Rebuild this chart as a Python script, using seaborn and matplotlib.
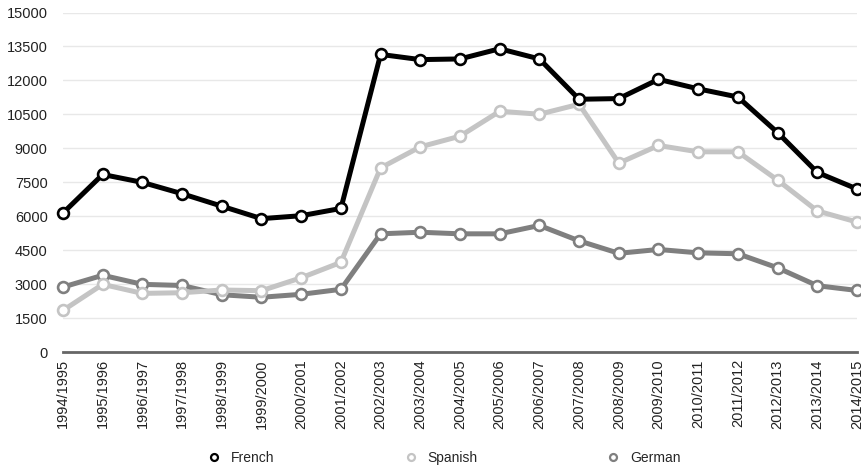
import matplotlib
matplotlib.use("Agg")
import matplotlib.pyplot as plt
from matplotlib.lines import Line2D
import seaborn as sns
import pandas as pd

years = ["1994/1995", "1995/1996", "1996/1997", "1997/1998", "1998/1999",
         "1999/2000", "2000/2001", "2001/2002", "2002/2003", "2003/2004",
         "2004/2005", "2005/2006", "2006/2007", "2007/2008", "2008/2009",
         "2009/2010", "2010/2011", "2011/2012", "2012/2013", "2013/2014",
         "2014/2015"]
french = [6150, 7850, 7500, 7000, 6450, 5900, 6030, 6350, 13150, 12920,
          12950, 13400, 12950, 11170, 11200, 12050, 11630, 11270, 9700, 7940, 7210]
spanish = [1850, 3000, 2600, 2630, 2750, 2720, 3290, 3970, 8140, 9070,
           9540, 10640, 10510, 10950, 8350, 9130, 8850, 8850, 7600, 6240, 5750]
german = [2880, 3400, 3000, 2950, 2540, 2430, 2560, 2780, 5230, 5300,
          5230, 5230, 5600, 4920, 4370, 4540, 4390, 4350, 3730, 2940, 2730]
series_names = ["French", "Spanish", "German"]
yticks = [0, 1500, 3000, 4500, 6000, 7500, 9000, 10500, 12000, 13500, 15000]

colors = {"French": "#000000", "Spanish": "#c4c4c4", "German": "#7f7f7f"}

sns.set_style("white")
plt.rcParams["font.family"] = ["Liberation Sans", "DejaVu Sans"]

df = pd.DataFrame({"year": years * 3,
                   "value": french + spanish + german,
                   "lang": ["French"] * len(years) + ["Spanish"] * len(years) + ["German"] * len(years)})
df["x"] = list(range(len(years))) * 3

fig = plt.figure(figsize=(8.62, 4.68), dpi=100)
ax = fig.add_axes([63 / 862, 1 - 352.3 / 468, (857 - 63) / 862, (352.3 - 12.5) / 468])

# draw in order German, Spanish, French so French is on top
for name in ["German", "Spanish", "French"]:
    sub = df[df["lang"] == name]
    c = colors[name]
    sns.lineplot(data=sub, x="x", y="value", ax=ax, color=c, linewidth=3.6,
                 marker="o", markersize=7.8, markerfacecolor="white",
                 markeredgecolor=c, markeredgewidth=1.9, clip_on=False,
                 legend=False, sort=False)

ax.set_xlim(0, len(years) - 1)
ax.set_ylim(0, 15000)
ax.set_yticks(yticks)
ax.set_yticklabels([str(v) for v in yticks], fontsize=10.5, color="#222222")
ax.set_xticks(range(len(years)))
ax.set_xticklabels(years, rotation=90, fontsize=10.5, color="#222222")
ax.set_xlabel("")
ax.set_ylabel("")
ax.tick_params(axis="y", length=0, pad=11)
ax.tick_params(axis="x", length=0, pad=5)
ax.yaxis.grid(True, color="#e8e8e8", linewidth=1)
ax.set_axisbelow(True)
for s in ["top", "right", "left"]:
    ax.spines[s].set_visible(False)
ax.spines["bottom"].set_color("#666666")
ax.spines["bottom"].set_linewidth(2)
ax.spines["bottom"].set_zorder(1)

handles = [Line2D([], [], linestyle="none", marker="o", markersize=5,
                  markerfacecolor="white", markeredgecolor=colors[n],
                  markeredgewidth=1.6, label=n) for n in series_names]
fig.legend(handles=handles, loc="center", bbox_to_anchor=(444 / 862, 1 - 458 / 468),
           ncol=3, frameon=False, fontsize=10, handlelength=1.0,
           handletextpad=0.7, columnspacing=9.3)

fig.savefig("out.png", dpi=100)
